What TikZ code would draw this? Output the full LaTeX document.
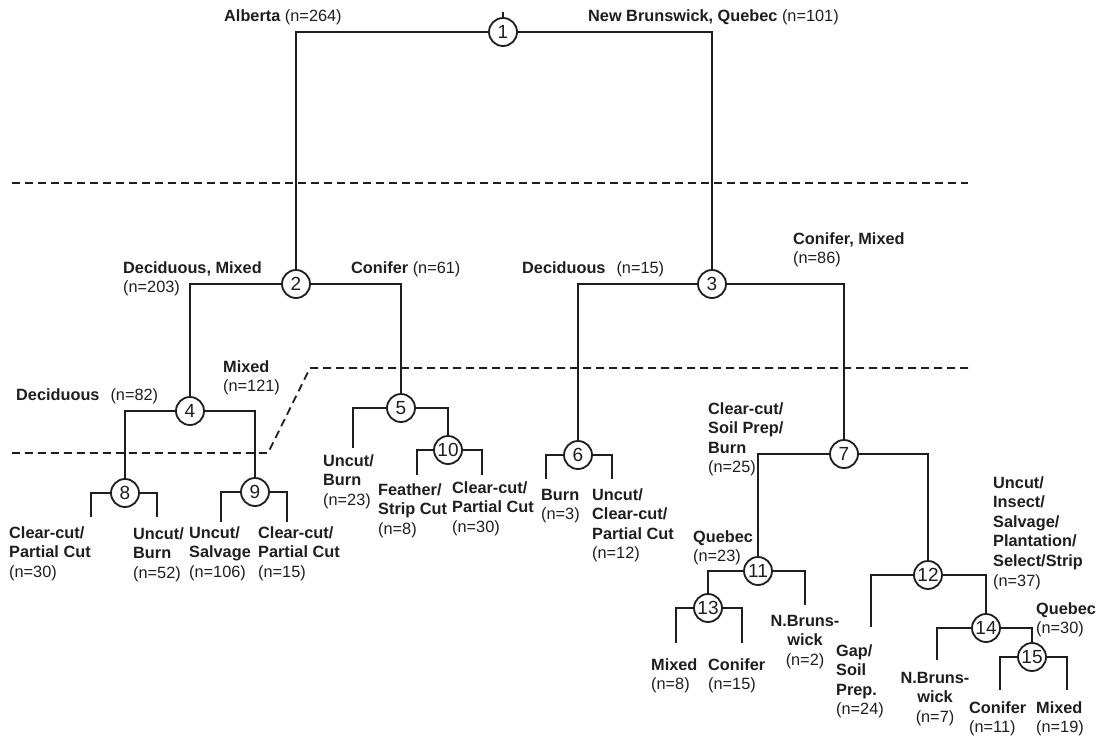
\documentclass[tikz,border=0pt]{standalone}
\usepackage{fontspec}
\setmainfont{Liberation Sans}
\newcommand\lblock[1]{\vtop{\baselineskip=19.6pt\halign{##\hfil\cr#1\crcr}}}
\newcommand\clblock[1]{\vtop{\baselineskip=19.6pt\halign{\hfil##\hfil\cr#1\crcr}}}
\definecolor{ink}{RGB}{30,30,30}
\begin{document}
\begin{tikzpicture}[x=1pt,y=-1pt,
  font=\fontsize{16.3}{19.6}\selectfont,
  every node/.style={text=ink},
  split/.style={circle,draw=ink,fill=white,line width=1.8pt,minimum size=28pt,inner sep=0pt,font=\fontsize{19}{19}\selectfont},
  lab/.style={inner sep=0pt,anchor=base west},
  clab/.style={inner sep=0pt,anchor=base},
  branch/.style={line width=1.8pt,draw=ink},
  sep/.style={line width=1.8pt,draw=ink,dash pattern=on 8pt off 5pt}]
\useasboundingbox[fill=white] (0,0) rectangle (1100,737);

% separators
\draw[sep] (12,183) -- (968,183);
\draw[sep] (968,368) -- (310,368) -- (268,453) -- (12,453);

% split nodes
\node[split] (n1) at (503,32) {1};
\node[split] (n2) at (296,284) {2};
\node[split] (n3) at (712,284) {3};
\node[split] (n4) at (190,411) {4};
\node[split] (n5) at (401,408) {5};
\node[split] (n6) at (578,455) {6};
\node[split] (n7) at (844,454) {7};
\node[split] (n8) at (125,493) {8};
\node[split] (n9) at (255,492) {9};
\node[split] (n10) at (448,450) {10};
\node[split] (n11) at (758,571) {11};
\node[split] (n12) at (928,575) {12};
\node[split] (n13) at (708,608) {13};
\node[split] (n14) at (986,628) {14};
\node[split] (n15) at (1032,657) {15};

% leaf ends
\coordinate (t1) at (503,12);
\coordinate (l5) at (353,448);
\coordinate (l8a) at (91,517);
\coordinate (l8b) at (157,517);
\coordinate (l9a) at (221,522);
\coordinate (l9b) at (287,522);
\coordinate (l10a) at (417,475);
\coordinate (l10b) at (482,475);
\coordinate (l6a) at (546,479);
\coordinate (l6b) at (612,479);
\coordinate (l11) at (805,605);
\coordinate (l13a) at (676,643);
\coordinate (l13b) at (742,643);
\coordinate (l12) at (871,627);
\coordinate (l14) at (937,660);
\coordinate (l15a) at (1000,690);
\coordinate (l15b) at (1067,690);

% branches
\draw[branch] (t1) -- (n1);
\draw[branch] (n2) |- (n1) -| (n3);
\draw[branch] (n4) |- (n2) -| (n5);
\draw[branch] (n6) |- (n3) -| (n7);
\draw[branch] (n8) |- (n4) -| (n9);
\draw[branch] (l5) |- (n5) -| (n10);
\draw[branch] (l8a) |- (n8) -| (l8b);
\draw[branch] (l9a) |- (n9) -| (l9b);
\draw[branch] (l10a) |- (n10) -| (l10b);
\draw[branch] (l6a) |- (n6) -| (l6b);
\draw[branch] (n11) |- (n7) -| (n12);
\draw[branch] (n13) |- (n11) -| (l11);
\draw[branch] (l13a) |- (n13) -| (l13b);
\draw[branch] (l12) |- (n12) -| (n14);
\draw[branch] (l14) |- (n14) -| (n15);
\draw[branch] (l15a) |- (n15) -| (l15b);

% labels
\node[lab] (L1) at (224,21) {\textbf{Alberta} (n=264)};
\node[lab] (L2) at (588,21) {\textbf{New Brunswick, Quebec} (n=101)};
\node[lab] (L3) at (123,273) {\lblock{\textbf{Deciduous, Mixed}\cr(n=203)}};
\node[lab] (L4) at (351,273) {\textbf{Conifer} (n=61)};
\node[lab] (L5) at (522,273) {\textbf{Deciduous}\hspace{11pt}(n=15)};
\node[lab] (L6) at (793,244) {\lblock{\textbf{Conifer, Mixed}\cr(n=86)}};
\node[lab] (L7) at (16,400) {\textbf{Deciduous}\hspace{11pt}(n=82)};
\node[lab] (L8) at (223,372) {\lblock{\textbf{Mixed}\cr(n=121)}};
\node[lab] (L9) at (9,538) {\lblock{\textbf{Clear-cut/}\cr\textbf{Partial Cut}\cr(n=30)}};
\node[lab] (L10) at (133,539) {\lblock{\textbf{Uncut/}\cr\textbf{Burn}\cr(n=52)}};
\node[lab] (L11) at (189,538) {\lblock{\textbf{Uncut/}\cr\textbf{Salvage}\cr(n=106)}};
\node[lab] (L12) at (258,538) {\lblock{\textbf{Clear-cut/}\cr\textbf{Partial Cut}\cr(n=15)}};
\node[lab] (L13) at (323,466) {\lblock{\textbf{Uncut/}\cr\textbf{Burn}\cr(n=23)}};
\node[lab] (L14) at (378,495) {\lblock{\textbf{Feather/}\cr\textbf{Strip Cut}\cr(n=8)}};
\node[lab] (L15) at (452,493) {\lblock{\textbf{Clear-cut/}\cr\textbf{Partial Cut}\cr(n=30)}};
\node[lab] (L16) at (541,500) {\lblock{\textbf{Burn}\cr(n=3)}};
\node[lab] (L17) at (592,500) {\lblock{\textbf{Uncut/}\cr\textbf{Clear-cut/}\cr\textbf{Partial Cut}\cr(n=12)}};
\node[lab] (L18) at (708,414) {\lblock{\textbf{Clear-cut/}\cr\textbf{Soil Prep/}\cr\textbf{Burn}\cr(n=25)}};
\node[lab] (L19) at (693,542) {\lblock{\textbf{Quebec}\cr(n=23)}};
\node[lab] (L20) at (651,670) {\lblock{\textbf{Mixed}\cr(n=8)}};
\node[lab] (L21) at (708,670) {\lblock{\textbf{Conifer}\cr(n=15)}};
\node[clab] (L22) at (805,626) {\clblock{\textbf{N.Bruns-}\cr\textbf{wick}\cr(n=2)}};
\node[lab] (L23) at (993,488) {\lblock{\textbf{Uncut/}\cr\textbf{Insect/}\cr\textbf{Salvage/}\cr\textbf{Plantation/}\cr\textbf{Select/Strip}\cr(n=37)}};
\node[lab] (L24) at (1036,614) {\lblock{\textbf{Quebec}\cr(n=30)}};
\node[lab] (L25) at (836,656) {\lblock{\textbf{Gap/}\cr\textbf{Soil}\cr\textbf{Prep.}\cr(n=24)}};
\node[clab] (L26) at (935,683) {\clblock{\textbf{N.Bruns-}\cr\textbf{wick}\cr(n=7)}};
\node[lab] (L27) at (969,713) {\lblock{\textbf{Conifer}\cr(n=11)}};
\node[lab] (L28) at (1036,713) {\lblock{\textbf{Mixed}\cr(n=19)}};
\end{tikzpicture}
\end{document}
